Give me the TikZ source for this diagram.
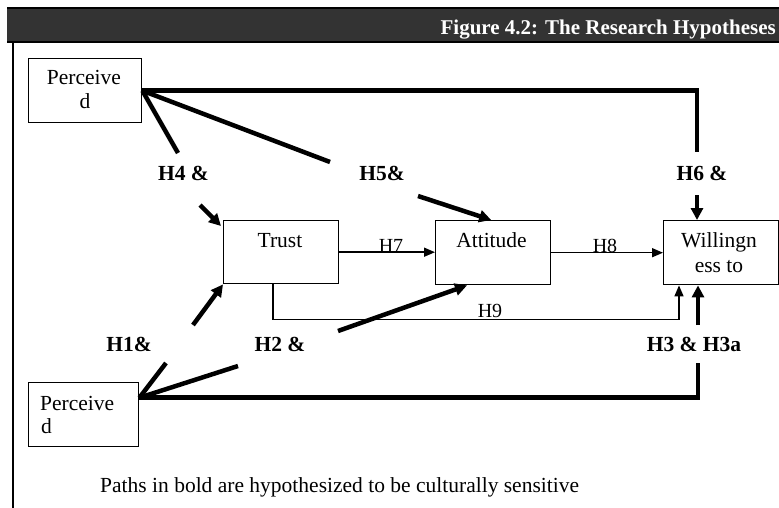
\documentclass[tikz,border=0pt]{standalone}
\usepackage{fontspec}
\setmainfont{Liberation Serif}
\usetikzlibrary{arrows.meta}
\begin{document}
\begin{tikzpicture}[x=1pt,y=-1pt,
  box/.style={draw, line width=1.4pt, inner sep=0pt, anchor=north west},
  txt/.style={font=\fontsize{21.5}{24}\selectfont, anchor=base, inner sep=0pt},
  hyp/.style={font=\fontsize{21.5}{24}\selectfont\bfseries, anchor=base, inner sep=0pt},
  pathlabel/.style={font=\fontsize{20}{22}\selectfont, anchor=base, inner sep=0pt},
  boldpath/.style={line width=4.5pt},
  boldarrow/.style={line width=4.5pt, -{Triangle[length=12pt,width=12pt]}},
  thinarrow/.style={line width=1.5pt, -{Triangle[length=11pt,width=9pt]}},
]
\useasboundingbox (0,0) rectangle (779,508);

% heading bar and left frame line
\fill[black!80] (7,8) rectangle (790,43);
\draw[line width=2pt] (7,8) -- (790,8);
\draw[line width=2pt] (7,42) -- (790,42);
\draw[line width=1.5pt] (13,43) -- (13,508);
\node[font=\fontsize{21}{24}\selectfont\bfseries, text=white, anchor=base east, inner sep=0pt]
  (title) at (776,35) {Figure 4.2: The Research Hypotheses};

% constructs
\node[box, minimum width=113pt, minimum height=64pt] (perc1) at (28,58) {};
\node[box, minimum width=115pt, minimum height=63pt] (trust) at (223,220) {};
\node[box, minimum width=115pt, minimum height=64pt] (att)   at (435,220) {};
\node[box, minimum width=115pt, minimum height=64pt] (will)  at (663,220) {};
\node[box, minimum width=110pt, minimum height=64pt] (perc2) at (28,382) {};

\node[txt] (perc1a) at (84,85) {Perceive};
\node[txt] (perc1b) at (85,109) {d};
\node[txt] (trustt) at (280,247) {Trust};
\node[txt] (attt)   at (491.5,247) {Attitude};
\node[txt] (willa)  at (719,247) {Willingn};
\node[txt] (willb)  at (719,272) {ess to};
\node[txt, anchor=base west] (perc2a) at (40,410) {Perceive};
\node[txt, anchor=base west] (perc2b) at (41,433) {d};

% hypothesis labels
\node[hyp] (h4) at (183.5,180) {H4 \&};
\node[hyp] (h5) at (382,180) {H5\&};
\node[hyp] (h6) at (702,180) {H6 \&};
\node[hyp] (h1) at (129,351) {H1\&};
\node[hyp] (h2) at (280,351) {H2 \&};
\node[hyp] (h3) at (694,351) {H3 \& H3a};

% where the bold paths break around their labels
\coordinate (h4a) at (178,153);  \coordinate (h4b) at (200,205);
\coordinate (h5a) at (330,162);  \coordinate (h5b) at (418,196);
\coordinate (h6a) at (697,152);  \coordinate (h6b) at (697,195);
\coordinate (h1a) at (166,363);  \coordinate (h1b) at (193,325);
\coordinate (h2a) at (238,366);  \coordinate (h2b) at (338,331);
\coordinate (h3a) at (698,363);  \coordinate (h3b) at (698,325);

% bold paths from the upper construct
\draw[boldpath] (perc1.east) -| (h6a);
\draw[boldarrow] (h6b) -- (h6b |- will.north);
\draw[boldpath] (perc1.east) -- (h4a);
\draw[boldarrow] (h4b) -- ([xshift=-2pt,yshift=-6pt]trust.north west);
\draw[boldpath] (perc1.east) -- (h5a);
\draw[boldarrow] (h5b) -- ([xshift=-2pt]att.north);

% bold paths from the lower construct
\draw[boldpath] ([yshift=17pt]perc2.east) -| (h3a);
\draw[boldarrow] (h3b) -- (h3b |- will.south);
\draw[boldpath] ([yshift=17pt]perc2.east) -- (h1a);
\draw[boldarrow] (h1b) -- (trust.south west);
\draw[boldpath] ([yshift=17pt]perc2.east) -- (h2a);
\draw[boldarrow] (h2b) -- ([xshift=32pt]att.south west);

% thin paths
\draw[thinarrow] (trust.east) -- (trust.east -| att.west);
\node[pathlabel] (h7) at (391,252) {H7};
\draw[thinarrow] (att.east) -- (att.east -| will.west);
\node[pathlabel] (h8) at (605,252) {H8};
\draw[thinarrow] ([xshift=50pt]trust.south west) -- ++(0,35) -| ([xshift=16pt]will.south west);
\node[pathlabel] (h9) at (490,317) {H9};

\node[txt, anchor=base west] (caption) at (100,492)
  {Paths in bold are hypothesized to be culturally sensitive};
\end{tikzpicture}
\end{document}
